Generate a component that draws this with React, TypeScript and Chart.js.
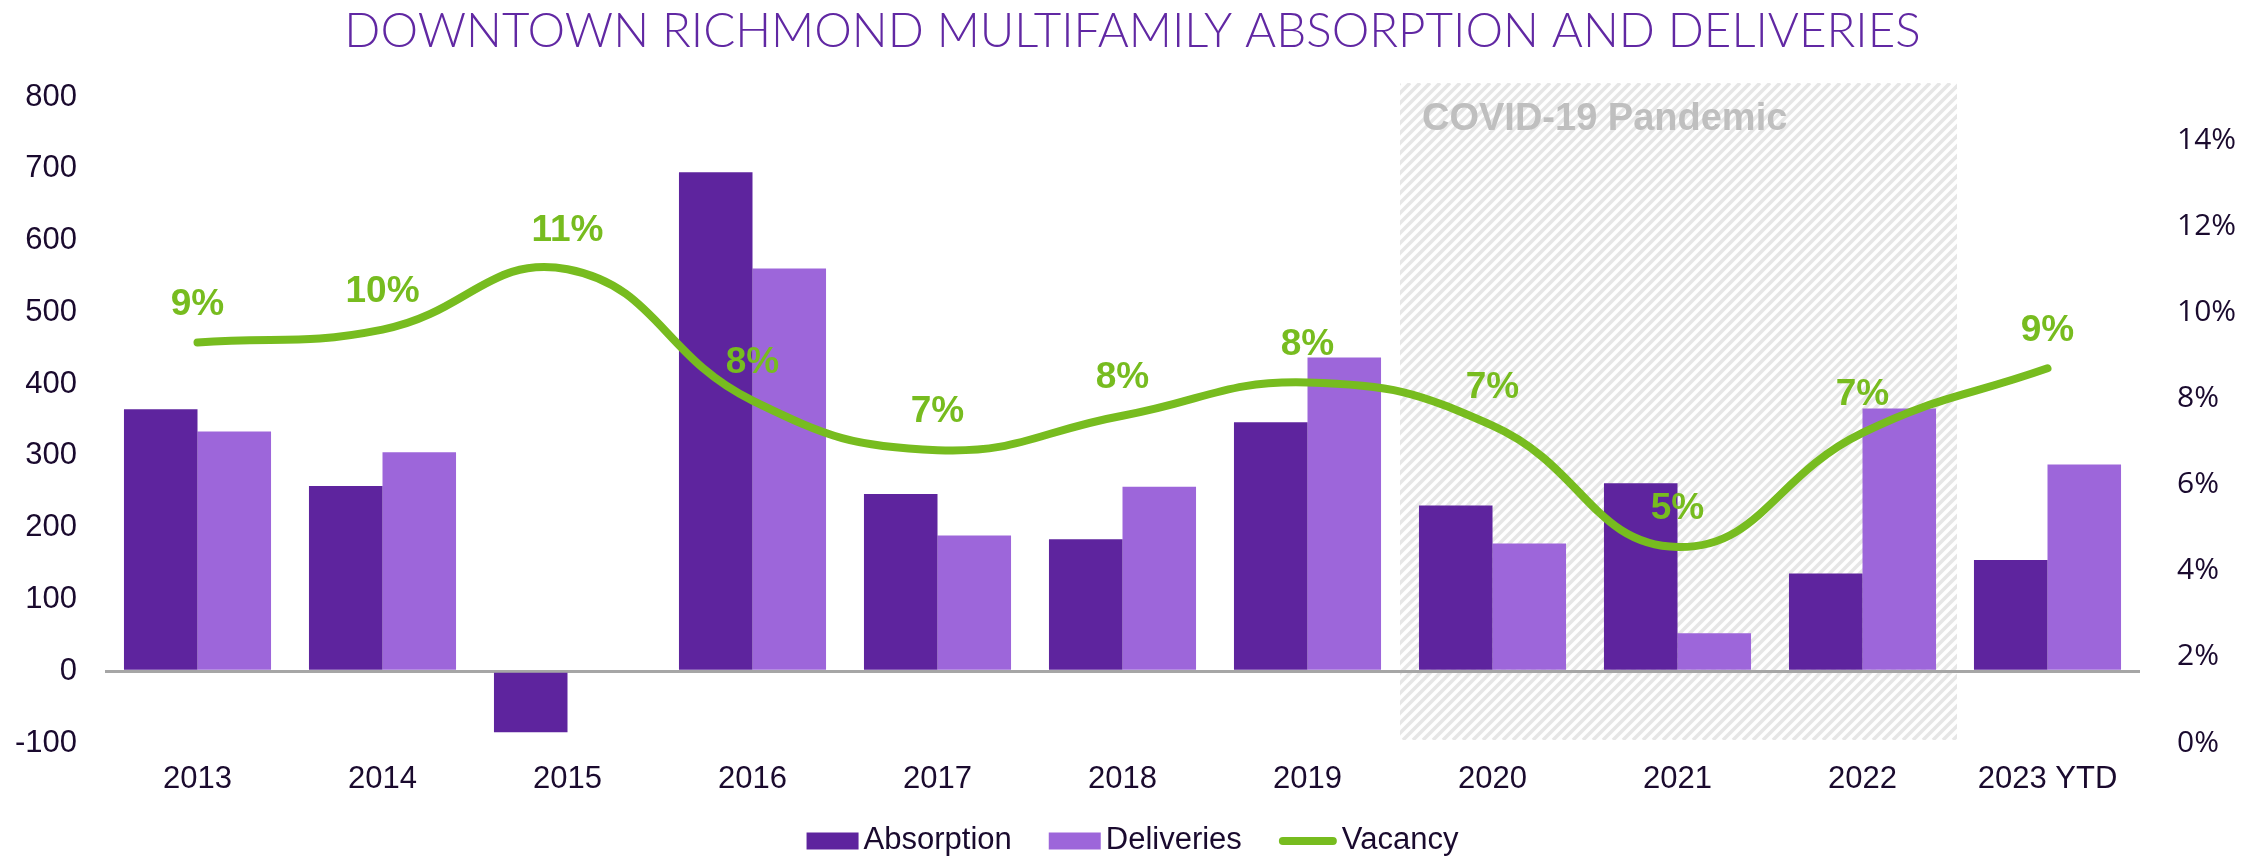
import React, { useEffect, useRef } from 'react';
import { Chart, registerables } from 'chart.js';

Chart.register(...registerables);

const TITLE = 'DOWNTOWN RICHMOND MULTIFAMILY ABSORPTION AND DELIVERIES';
const ANNOTATION = 'COVID-19 Pandemic';
const categories = ['2013', '2014', '2015', '2016', '2017', '2018', '2019', '2020', '2021', '2022', '2023 YTD'];
const absorption = [365, 258, -85, 695, 247, 184, 347, 231, 262, 136, 155];
const deliveries = [334, 305, 0, 561, 189, 257, 437, 178, 53, 366, 288];
const vacancy = [0.093, 0.096, 0.11, 0.0795, 0.068, 0.076, 0.0837, 0.0737, 0.0455, 0.072, 0.087];
const covidFirst = '2020';
const covidLast = '2022';
const leftMin = -100;
const leftMax = 800;
const leftStep = 100;
const rightMin = 0;
const rightMax = 0.15;
const rightStep = 0.02;

const C_ABS = '#5E249E';
const C_DEL = '#9D66DA';
const C_VAC = '#77BC1F';
const C_TEXT = '#1A0A2E';
const C_TITLE = '#6128A3';
const ARIAL = '"Liberation Sans", Arial, sans-serif';

const pct = (v: number) => Math.round(v * 100) + '%';

const covidPlugin = {
  id: 'covidShade',
  beforeDraw(chart: any) {
    const { ctx, chartArea, scales } = chart;
    const x = scales.x;
    const i0 = categories.indexOf(covidFirst);
    const i1 = categories.indexOf(covidLast);
    const half = (x.getPixelForValue(1) - x.getPixelForValue(0)) / 2;
    const left = x.getPixelForValue(i0) - half;
    const right = x.getPixelForValue(i1) + half + 2;
    const top = chartArea.top - 14;
    const bottom = chartArea.bottom - 3;
    const h = bottom - top;
    ctx.save();
    ctx.beginPath();
    ctx.rect(left, top, right - left, h);
    ctx.clip();
    ctx.strokeStyle = '#E6E6E6';
    ctx.lineWidth = 3.5;
    for (let sx = left - h; sx < right + 10; sx += 10) {
      ctx.beginPath();
      ctx.moveTo(sx, bottom);
      ctx.lineTo(sx + h, top);
      ctx.stroke();
    }
    ctx.restore();
    ctx.save();
    ctx.font = 'bold 38px ' + ARIAL;
    ctx.fillStyle = '#BFBFBF';
    ctx.textAlign = 'left';
    ctx.textBaseline = 'alphabetic';
    ctx.fillText(ANNOTATION, left + 22, top + 47);
    ctx.restore();
  },
};

const labelPlugin = {
  id: 'vacLabels',
  afterDatasetsDraw(chart: any) {
    const { ctx } = chart;
    const idx = chart.data.datasets.findIndex((d: any) => d.type === 'line');
    const meta = chart.getDatasetMeta(idx);
    const data = chart.data.datasets[idx].data as number[];
    ctx.save();
    ctx.font = 'bold 37px ' + ARIAL;
    ctx.fillStyle = C_VAC;
    ctx.textAlign = 'center';
    ctx.textBaseline = 'middle';
    meta.data.forEach((el: any, i: number) => {
      ctx.fillText(pct(data[i]), el.x, el.y - 38);
    });
    ctx.restore();
  },
};

const legendPlugin = {
  id: 'customLegend',
  afterDraw(chart: any) {
    const { ctx, width } = chart;
    const ds = chart.data.datasets;
    ctx.save();
    ctx.font = '31px ' + ARIAL;
    const boxW = 52;
    const lineW = 58;
    const gap = 5;
    const itemGap = 37;
    const items = ds.map((d: any) => ({
      label: d.label,
      color: d.type === 'line' ? d.borderColor : d.backgroundColor,
      isLine: d.type === 'line',
      w: (d.type === 'line' ? lineW : boxW) + gap + ctx.measureText(d.label).width,
    }));
    const total = items.reduce((s: number, it: any) => s + it.w, 0) + itemGap * (items.length - 1);
    let x = width / 2 - total / 2;
    const cy = 841;
    items.forEach((it: any) => {
      if (it.isLine) {
        ctx.strokeStyle = it.color;
        ctx.lineWidth = 8;
        ctx.lineCap = 'round';
        ctx.beginPath();
        ctx.moveTo(x + 4, cy);
        ctx.lineTo(x + lineW - 4, cy);
        ctx.stroke();
      } else {
        ctx.fillStyle = it.color;
        ctx.fillRect(x, cy - 8.5, boxW, 17);
      }
      const tx = x + (it.isLine ? lineW : boxW) + gap;
      ctx.fillStyle = C_TEXT;
      ctx.textAlign = 'left';
      ctx.textBaseline = 'middle';
      ctx.fillText(it.label, tx, cy - 1);
      x += it.w + itemGap;
    });
    ctx.restore();
  },
};

export default function App() {
  const ref = useRef<HTMLCanvasElement | null>(null);
  useEffect(() => {
    document.body.style.margin = '0';
    const canvas = ref.current;
    if (!canvas) return;
    const chart = new Chart(canvas, {
      type: 'bar',
      data: {
        labels: categories,
        datasets: [
          {
            type: 'bar',
            label: 'Absorption',
            data: absorption,
            backgroundColor: C_ABS,
            borderWidth: 0,
            yAxisID: 'y',
            order: 1,
            categoryPercentage: 0.795,
            barPercentage: 1,
          },
          {
            type: 'bar',
            label: 'Deliveries',
            data: deliveries,
            backgroundColor: C_DEL,
            borderWidth: 0,
            yAxisID: 'y',
            order: 1,
            categoryPercentage: 0.795,
            barPercentage: 1,
          },
          {
            type: 'line',
            label: 'Vacancy',
            data: vacancy,
            borderColor: C_VAC,
            backgroundColor: C_VAC,
            borderWidth: 8,
            borderCapStyle: 'round',
            tension: 0.45,
            pointRadius: 0,
            yAxisID: 'y1',
            order: 0,
          },
        ],
      } as any,
      options: {
        animation: false,
        responsive: false,
        devicePixelRatio: 1,
        layout: { padding: { top: 0, bottom: 0, left: 0, right: 0 } },
        plugins: {
          legend: { display: false },
          tooltip: { enabled: false },
          title: {
            display: true,
            text: TITLE,
            color: C_TITLE,
            font: { family: 'Lato, "Noto Sans", sans-serif', weight: 300 as any, size: 47.5 },
            padding: { top: 3, bottom: 37 },
          },
        },
        scales: {
          x: {
            type: 'category',
            grid: { display: false, drawTicks: false },
            border: { display: false },
            ticks: {
              color: C_TEXT,
              font: { family: ARIAL, size: 31 },
              padding: 18,
              maxRotation: 0,
              autoSkip: false,
            },
            afterFit: (s: any) => {
              s.height = 115;
            },
          },
          y: {
            position: 'left',
            min: leftMin,
            max: leftMax,
            ticks: {
              stepSize: leftStep,
              color: C_TEXT,
              font: { family: ARIAL, size: 31 },
              padding: 28,
            },
            grid: {
              drawTicks: false,
              lineWidth: 3,
              color: (c: any) => (c.tick && c.tick.value === 0 ? '#A6A6A6' : 'rgba(0,0,0,0)'),
            },
            border: { display: false },
            afterFit: (s: any) => {
              s.width = 105;
            },
          },
          y1: {
            position: 'right',
            min: rightMin,
            max: rightMax,
            ticks: {
              stepSize: rightStep,
              includeBounds: false,
              color: C_TEXT,
              font: { family: '"Open Sans", sans-serif', size: 30 },
              padding: 37,
              callback: (v: any) => pct(Number(v)),
            },
            grid: { display: false, drawTicks: false, drawOnChartArea: false },
            border: { display: false },
            afterFit: (s: any) => {
              s.width = 125;
            },
          },
        },
      } as any,
      plugins: [covidPlugin, labelPlugin, legendPlugin],
    });
    return () => chart.destroy();
  }, []);
  return (
    <div style={{ position: 'relative', width: 2265, height: 858, background: '#fff' }}>
      <canvas ref={ref} width={2265} height={858} style={{ display: 'block' }} />
    </div>
  );
}
